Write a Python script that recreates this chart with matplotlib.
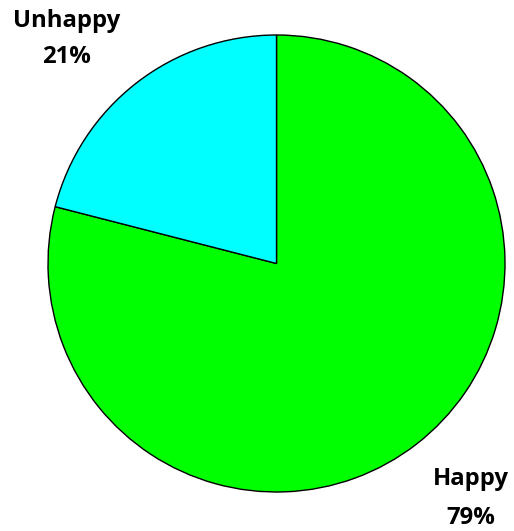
import matplotlib.pyplot as plt

labels = ['Happy', 'Unhappy']
shares = [79, 21]
colors = ['#00ff00', '#00ffff']

W, H = 514, 531
fig = plt.figure(figsize=(W / 100, H / 100), dpi=100)
ax = fig.add_axes([0, 0, 1, 1])
ax.set_aspect('equal')
ax.axis('off')

# pie in pixel-like coordinates (y measured from the bottom)
ax.pie(shares, colors=colors, startangle=90, counterclock=False,
       center=(276.5, H - 263.5), radius=228.5,
       wedgeprops=dict(edgecolor='black', linewidth=1.0))
ax.set_xlim(0, W)
ax.set_ylim(0, H)

# label x and the baselines of the name line and the percent line
label_pos = {'Happy': (470.5, 485, 524), 'Unhappy': (66.5, 27, 63)}
for name, val in zip(labels, shares):
    x, y_name, y_pct = label_pos[name]
    style = dict(ha='center', va='baseline', fontsize=17.2,
                 fontweight='bold', family='Open Sans')
    ax.text(x, H - y_name, name, **style)
    ax.text(x, H - y_pct, f'{val}%', **style)

fig.savefig('out.png', dpi=100)
